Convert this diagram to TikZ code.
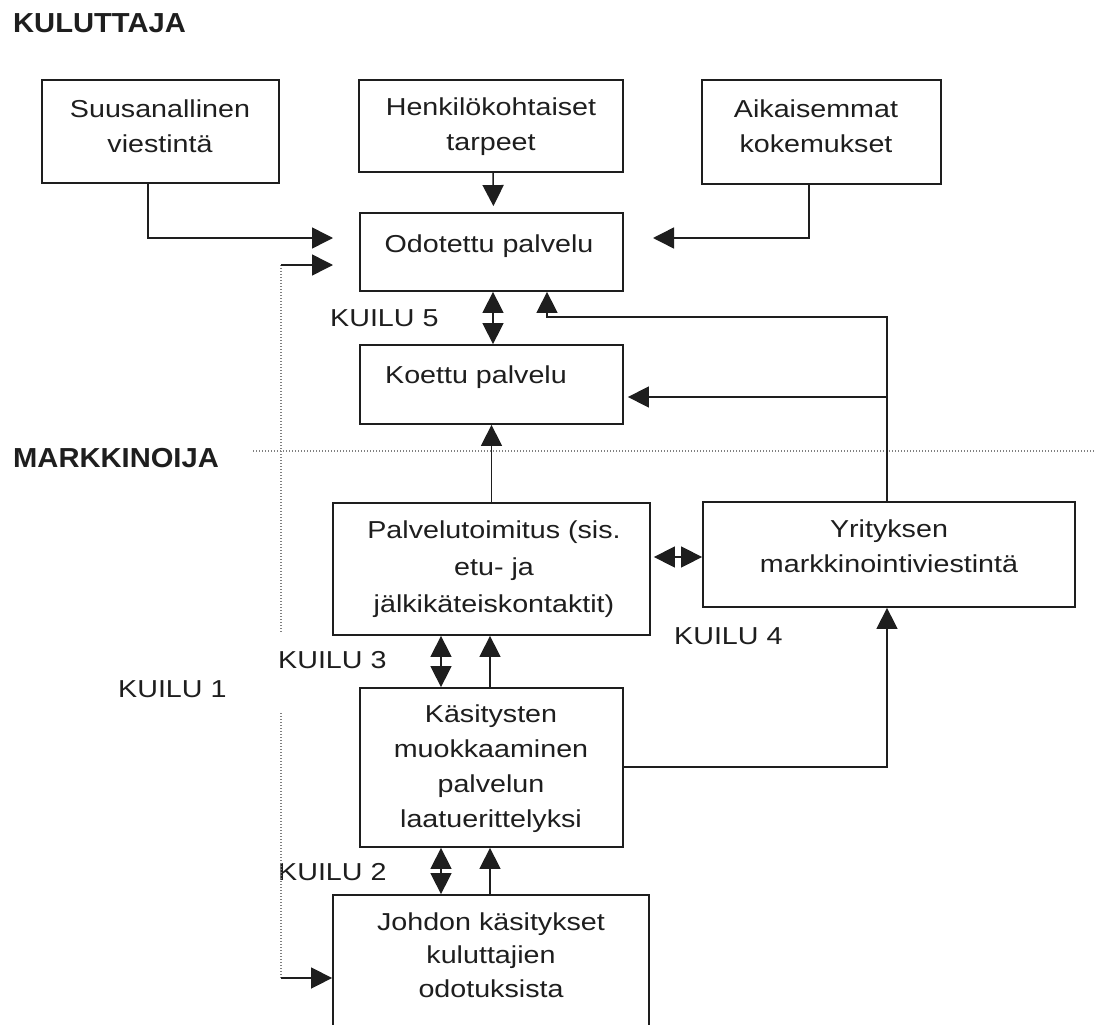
\documentclass[tikz,border=0pt]{standalone}
\usepackage{fontspec}
\setmainfont{Liberation Sans}[FakeStretch=1.17]
\newfontfamily\hdfont{Liberation Sans}[FakeStretch=1.06]
\usetikzlibrary{arrows.meta}
\definecolor{ink}{HTML}{1E1E1E}
\begin{document}
\begin{tikzpicture}[x=1pt,y=-1pt,
  box/.style={draw=ink, line width=1.8pt, rectangle, inner sep=0pt},
  txt/.style={align=center, inner sep=0pt, anchor=base, text=ink, font=\fontsize{24.5}{35}\selectfont},
  lbl/.style={inner sep=0pt, anchor=base west, text=ink, font=\fontsize{24.5}{35}\selectfont},
  hd/.style={inner sep=0pt, anchor=base west, text=ink, font=\hdfont\bfseries\fontsize{27.5}{30}\selectfont},
  con/.style={draw=ink, line width=1.5pt},
  arr/.style={con, -{Triangle[length=21pt,width=21pt]}},
  darr/.style={con, {Triangle[length=21pt,width=21pt]}-{Triangle[length=21pt,width=21pt]}},
  dots/.style={draw=gray, line width=1.3pt, dash pattern=on 1.3pt off 1.7pt},
]
\useasboundingbox (0,0) rectangle (1095,1025);
\clip (0,0) rectangle (1095,1025);
\fill[white] (0,0) rectangle (1095,1025);

% headings
\node[hd] (h-kul) at (13,33) {KULUTTAJA};
\node[hd] (h-mar) at (13,467) {MARKKINOIJA};

% boxes
\node[box, minimum width=237pt, minimum height=103pt] (suus) at (160.5,131.5) {};
\node[box, minimum width=264pt, minimum height=92pt]  (henk) at (491,126) {};
\node[box, minimum width=239pt, minimum height=104pt] (aika) at (821.5,132) {};
\node[box, minimum width=263pt, minimum height=78pt]  (odot) at (491.5,252) {};
\node[box, minimum width=263pt, minimum height=79pt]  (koet) at (491.5,384.5) {};
\node[box, minimum width=317pt, minimum height=132pt] (palv) at (491.5,569) {};
\node[box, minimum width=372pt, minimum height=105pt] (yrit) at (889,554.5) {};
\node[box, minimum width=263pt, minimum height=159pt] (kasi) at (491.5,767.5) {};
\node[box, minimum width=316pt, minimum height=140pt] (joht) at (491,965) {};

% box texts (anchor = baseline of the last line)
\node[txt] (t-suus) at (160,152) {Suusanallinen\\viestintä};
\node[txt] (t-henk) at (491,150) {Henkilökohtaiset\\tarpeet};
\node[txt] (t-aika) at (816,152) {Aikaisemmat\\kokemukset};
\node[txt] (t-odot) at (489,252) {Odotettu palvelu};
\node[txt] (t-koet) at (476,383) {Koettu palvelu};
\node[txt, font=\fontsize{24.5}{37}\selectfont] (t-palv) at (494,612) {Palvelutoimitus (sis.\\etu- ja\\jälkikäteiskontaktit)};
\node[txt] (t-yrit) at (889,572) {Yrityksen\\markkinointiviestintä};
\node[txt] (t-kasi) at (491,827) {Käsitysten\\muokkaaminen\\palvelun\\laatuerittelyksi};
\node[txt, font=\fontsize{24.5}{33.5}\selectfont] (t-joht) at (491,997) {Johdon käsitykset\\kuluttajien\\odotuksista};

% gap labels
\node[lbl] (k5) at (330,326) {KUILU 5};
\node[lbl] (k3) at (278,668) {KUILU 3};
\node[lbl] (k1) at (118,697) {KUILU 1};
\node[lbl] (k4) at (674,644) {KUILU 4};
\node[lbl] (k2) at (278,880) {KUILU 2};

% helper coordinates
\coordinate (a1) at (333,238);
\coordinate (a2) at (653,238);
\coordinate (a3) at (333,265);
\coordinate (d1) at (281,265);
\coordinate (d2) at (281,632);
\coordinate (d3) at (281,713);
\coordinate (d4) at (281,978);
\coordinate (f1) at (887,317);
\coordinate (f2) at (887,397);
\coordinate (m1) at (887,767);
\coordinate (x441) at (441,0);
\coordinate (x490) at (490,0);
\coordinate (s1) at (253,451);
\coordinate (s2) at (1095,451);
\coordinate (h1) at ([yshift=12pt]palv.east);

% separator
\draw[dots] (s1) -- (s2);

% consumer side
\draw[arr] ([xshift=-12.5pt]suus.south) |- (a1);
\draw[arr, shorten >=6pt] ([xshift=2pt]henk.south) -- ([xshift=2pt]odot.north);
\draw[arr] ([xshift=-12.5pt]aika.south) |- (a2);

% gap 1 dotted path
\draw[dots] (d1) -- (d2);
\draw[dots] (d3) -- (d4);
\draw[arr] (d1) -- (a3);
\draw[arr] (d4) -- (d4 -| joht.west);

% gap 5
\draw[darr] ([xshift=1.5pt]odot.south) -- ([xshift=1.5pt]koet.north);

% communication feedback
\draw[arr] (yrit.north -| f1) -- (f1) -| ([xshift=55.5pt]odot.south);
\draw[arr, shorten >=4pt] (f2) -- (f2 -| koet.east);

% delivery to perceived
\draw[arr] (palv.north) -- (palv.north |- koet.south);

% gap 4
\draw[darr, shorten <=3pt] (h1) -- (h1 -| yrit.west);

% gap 3
\draw[darr] (palv.south -| x441) -- (kasi.north -| x441);
\draw[arr] (kasi.north -| x490) -- (palv.south -| x490);

% specs to communication
\draw[arr] (kasi.east |- m1) -- (m1) -- (m1 |- yrit.south);

% gap 2
\draw[darr] (kasi.south -| x441) -- (joht.north -| x441);
\draw[arr] (joht.north -| x490) -- (kasi.south -| x490);
\end{tikzpicture}
\end{document}
